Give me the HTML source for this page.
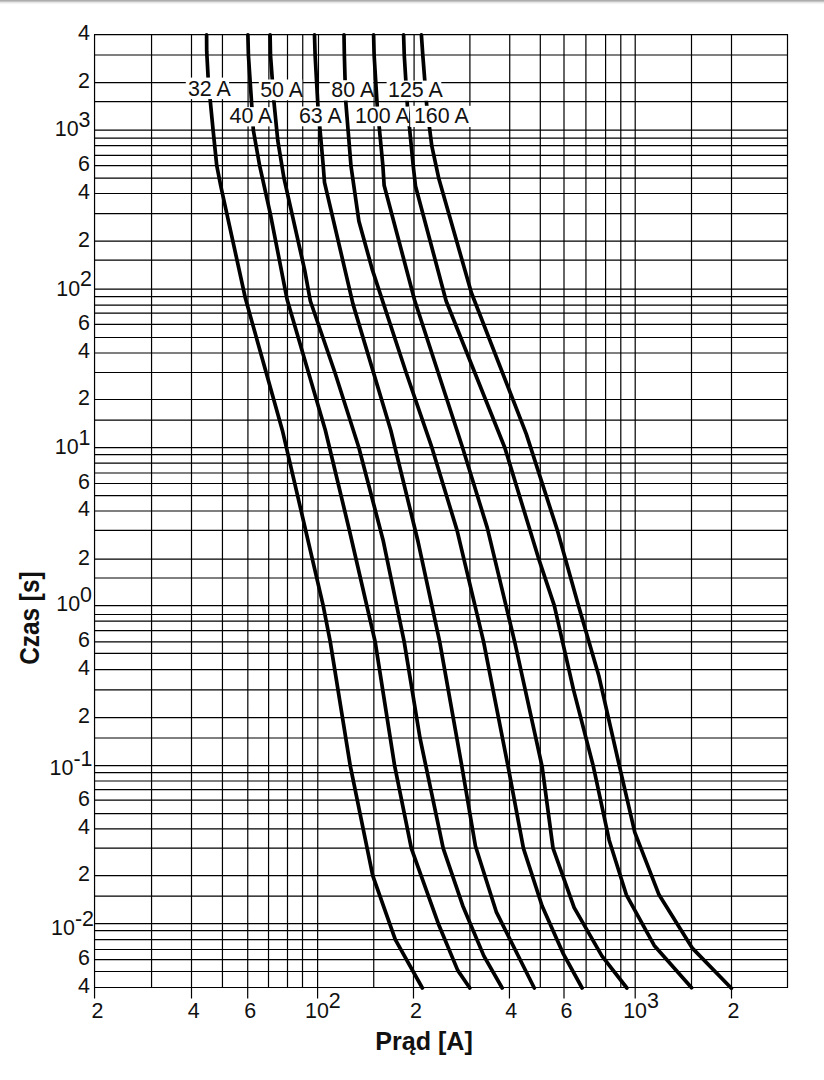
<!DOCTYPE html>
<html><head><meta charset="utf-8"><title>Czas [s] / Prąd [A]</title>
<style>
html,body{margin:0;padding:0;background:#fff;}
body{width:824px;height:1080px;position:relative;overflow:hidden;font-family:"Liberation Sans",sans-serif;}
#shade{position:absolute;left:0;top:0;width:824px;height:6px;background:linear-gradient(to bottom,#a6a6a6 0px,#b4b4b4 1px,#e9e9e9 2.6px,#fbfbfb 4px,#fff 5px);}
svg text{font-family:"Liberation Sans",sans-serif;}
</style></head><body>
<div id="shade"></div>
<svg width="824" height="1080" viewBox="0 0 824 1080" style="position:absolute;left:0;top:0">
<path d="M94.05 34.72H788.00M94.05 55.02H788.00M94.05 82.62H788.00M94.05 101.72H788.00M94.05 130.22H788.00M94.05 138.22H788.00M94.05 145.62H788.00M94.05 155.42H788.00M94.05 165.72H788.00M94.05 178.22H788.00M94.05 193.52H788.00M94.05 213.72H788.00M94.05 241.22H788.00M94.05 260.22H788.00M94.05 289.22H788.00M94.05 296.62H788.00M94.05 305.22H788.00M94.05 313.22H788.00M94.05 324.42H788.00M94.05 337.52H788.00M94.05 353.02H788.00M94.05 372.52H788.00M94.05 399.52H788.00M94.05 420.22H788.00M94.05 447.72H788.00M94.05 454.72H788.00M94.05 463.22H788.00M94.05 473.02H788.00M94.05 483.52H788.00M94.05 495.72H788.00M94.05 511.02H788.00M94.05 530.42H788.00M94.05 559.22H788.00M94.05 578.02H788.00M94.05 605.72H788.00M94.05 614.52H788.00M94.05 621.22H788.00M94.05 630.72H788.00M94.05 641.92H788.00M94.05 653.42H788.00M94.05 669.72H788.00M94.05 689.92H788.00M94.05 717.72H788.00M94.05 738.02H788.00M94.05 765.72H788.00M94.05 772.72H788.00M94.05 781.02H788.00M94.05 789.72H788.00M94.05 800.22H788.00M94.05 813.72H788.00M94.05 828.82H788.00M94.05 848.22H788.00M94.05 875.72H788.00M94.05 896.22H788.00M94.05 923.72H788.00M94.05 930.72H788.00M94.05 939.72H788.00M94.05 949.52H788.00M94.05 959.72H788.00M94.05 971.52H788.00M94.05 987.52H788.00M94.55 34.22L94.55 998.50M151.55 34.22L151.55 988.02M191.50 34.22L191.50 998.50M222.45 34.22L222.45 988.02M248.10 34.22L247.70 998.50M268.90 34.22L268.50 988.02M287.50 34.22L287.50 988.02M302.75 34.22L302.50 988.02M318.50 34.22L317.59 998.50M374.10 34.22L373.75 988.02M414.10 34.22L413.49 998.50M469.90 34.22L469.90 988.02M509.75 34.22L509.45 998.50M540.30 34.22L540.30 988.02M564.00 34.22L564.00 998.50M585.90 34.22L586.10 988.02M605.60 34.22L605.60 988.02M620.80 34.22L620.80 988.02M635.20 34.22L635.20 998.50M691.50 34.22L691.50 988.02M731.50 34.22L731.50 998.50M787.50 34.22L787.50 988.02" stroke="#000" stroke-width="1.2" fill="none"/>
<path d="M206.60 34.90L206.70 51.20L208.10 77.20L210.10 99.20L213.10 130.20L216.76 165.70L220.77 186.00L245.45 298.60L282.40 430.40L323.19 605.70L330.27 641.90L350.23 765.70L372.74 875.70L395.33 939.70L422.35 988.00" stroke="#000" stroke-width="3.7" fill="none" stroke-linecap="round" stroke-linejoin="round"/>
<path d="M247.90 34.90L248.40 55.00L251.80 106.20L253.34 130.20L259.65 165.70L270.28 213.70L287.18 299.80L325.35 430.20L349.37 530.20L375.18 641.90L394.61 765.70L411.36 848.40L438.32 923.70L457.74 970.40L469.80 988.00" stroke="#000" stroke-width="3.7" fill="none" stroke-linecap="round" stroke-linejoin="round"/>
<path d="M270.10 34.90L270.49 55.00L273.79 100.20L277.79 140.60L283.97 178.20L304.69 270.20L310.35 301.00L334.90 372.50L358.90 447.70L383.10 540.20L404.21 641.90L419.99 738.00L443.21 848.40L462.75 905.70L483.82 955.90L502.18 988.00" stroke="#000" stroke-width="3.7" fill="none" stroke-linecap="round" stroke-linejoin="round"/>
<path d="M314.50 34.90L315.10 55.00L317.93 106.20L323.21 165.70L324.50 182.30L353.00 304.10L390.76 430.20L417.70 540.20L439.71 641.90L461.75 765.70L475.43 846.00L496.27 911.80L534.27 988.00" stroke="#000" stroke-width="3.7" fill="none" stroke-linecap="round" stroke-linejoin="round"/>
<path d="M344.00 34.90L344.35 55.00L345.65 100.20L350.95 165.70L358.91 221.20L372.46 270.20L406.10 372.50L431.94 447.70L457.06 530.40L483.62 641.90L507.91 765.70L523.45 848.40L542.02 905.70L563.48 954.20L582.11 988.00" stroke="#000" stroke-width="3.7" fill="none" stroke-linecap="round" stroke-linejoin="round"/>
<path d="M373.60 34.90L374.12 55.00L377.23 106.20L382.87 165.70L384.12 185.20L414.62 300.20L462.61 447.70L487.29 527.90L514.70 641.90L542.14 766.80L553.07 848.40L574.14 907.60L601.86 955.90L626.88 988.00" stroke="#000" stroke-width="3.7" fill="none" stroke-linecap="round" stroke-linejoin="round"/>
<path d="M403.60 34.90L404.24 55.00L407.42 106.20L413.21 165.70L415.48 186.00L446.13 301.00L504.82 447.70L538.23 557.30L554.31 605.70L573.53 689.90L593.17 765.70L609.17 840.20L626.34 894.80L654.20 945.40L691.60 987.70" stroke="#000" stroke-width="3.7" fill="none" stroke-linecap="round" stroke-linejoin="round"/>
<path d="M421.40 34.90L422.78 55.00L426.78 106.20L431.74 145.60L438.72 178.20L471.29 292.50L526.34 434.10L557.40 530.40L578.50 605.70L598.73 675.40L619.32 765.70L634.79 832.30L659.03 894.80L692.56 948.40L731.39 988.20" stroke="#000" stroke-width="3.7" fill="none" stroke-linecap="round" stroke-linejoin="round"/>
<rect x="185.8" y="77.6" width="43.30" height="21.50" fill="#fff"/>
<rect x="258.8" y="79.5" width="43.50" height="20.75" fill="#fff"/>
<rect x="329.8" y="80.2" width="43.40" height="20.40" fill="#fff"/>
<rect x="386.6" y="80.6" width="54.70" height="20.20" fill="#fff"/>
<rect x="227.4" y="107.1" width="43.40" height="19.30" fill="#fff"/>
<rect x="297.4" y="106.5" width="43.40" height="19.80" fill="#fff"/>
<rect x="354.5" y="106.6" width="54.70" height="19.60" fill="#fff"/>
<rect x="410.2" y="105.8" width="60.80" height="21.20" fill="#fff"/>
<text transform="translate(187.9 95.7) scale(0.94 1)" font-size="22.8" text-anchor="start" fill="#111">32 A</text>
<text transform="translate(260.2 96.5) scale(0.94 1)" font-size="22.8" text-anchor="start" fill="#111">50 A</text>
<text transform="translate(331.3 96.85) scale(0.94 1)" font-size="22.8" text-anchor="start" fill="#111">80 A</text>
<text transform="translate(388.0 96.8) scale(0.94 1)" font-size="22.8" text-anchor="start" fill="#111">125 A</text>
<text transform="translate(229.5 123.45) scale(0.94 1)" font-size="22.8" text-anchor="start" fill="#111">40 A</text>
<text transform="translate(298.9 123.45) scale(0.94 1)" font-size="22.8" text-anchor="start" fill="#111">63 A</text>
<text transform="translate(354.9 123.4) scale(0.94 1)" font-size="22.8" text-anchor="start" fill="#111">100 A</text>
<text transform="translate(413.9 123.4) scale(0.94 1)" font-size="22.8" text-anchor="start" fill="#111">160 A</text>
<text transform="translate(90.0 40.1) scale(0.94 1)" font-size="22.8" text-anchor="end" fill="#111">4</text>
<text transform="translate(90.0 88.0) scale(0.94 1)" font-size="22.8" text-anchor="end" fill="#111">2</text>
<text transform="translate(90.0 171.1) scale(0.94 1)" font-size="22.8" text-anchor="end" fill="#111">6</text>
<text transform="translate(90.0 198.9) scale(0.94 1)" font-size="22.8" text-anchor="end" fill="#111">4</text>
<text transform="translate(90.0 246.6) scale(0.94 1)" font-size="22.8" text-anchor="end" fill="#111">2</text>
<text transform="translate(90.0 329.8) scale(0.94 1)" font-size="22.8" text-anchor="end" fill="#111">6</text>
<text transform="translate(90.0 358.4) scale(0.94 1)" font-size="22.8" text-anchor="end" fill="#111">4</text>
<text transform="translate(90.0 404.9) scale(0.94 1)" font-size="22.8" text-anchor="end" fill="#111">2</text>
<text transform="translate(90.0 488.9) scale(0.94 1)" font-size="22.8" text-anchor="end" fill="#111">6</text>
<text transform="translate(90.0 516.4) scale(0.94 1)" font-size="22.8" text-anchor="end" fill="#111">4</text>
<text transform="translate(90.0 564.6) scale(0.94 1)" font-size="22.8" text-anchor="end" fill="#111">2</text>
<text transform="translate(90.0 647.3) scale(0.94 1)" font-size="22.8" text-anchor="end" fill="#111">6</text>
<text transform="translate(90.0 675.1) scale(0.94 1)" font-size="22.8" text-anchor="end" fill="#111">4</text>
<text transform="translate(90.0 723.1) scale(0.94 1)" font-size="22.8" text-anchor="end" fill="#111">2</text>
<text transform="translate(90.0 805.6) scale(0.94 1)" font-size="22.8" text-anchor="end" fill="#111">6</text>
<text transform="translate(90.0 834.2) scale(0.94 1)" font-size="22.8" text-anchor="end" fill="#111">4</text>
<text transform="translate(90.0 881.1) scale(0.94 1)" font-size="22.8" text-anchor="end" fill="#111">2</text>
<text transform="translate(90.0 965.1) scale(0.94 1)" font-size="22.8" text-anchor="end" fill="#111">6</text>
<text transform="translate(90.0 992.9) scale(0.94 1)" font-size="22.8" text-anchor="end" fill="#111">4</text>
<text transform="translate(90.5 136.0) scale(0.94 1)" font-size="22.8" text-anchor="end" fill="#111">10<tspan dy="-9.5">3</tspan></text>
<text transform="translate(92 295.6) scale(0.94 1)" font-size="22.8" text-anchor="end" fill="#111">10<tspan dy="-9.5">2</tspan></text>
<text transform="translate(90.5 454.2) scale(0.94 1)" font-size="22.8" text-anchor="end" fill="#111">10<tspan dy="-9.4">1</tspan></text>
<text transform="translate(92 611.4) scale(0.94 1)" font-size="22.8" text-anchor="end" fill="#111">10<tspan dy="-9.1">0</tspan></text>
<text transform="translate(92.5 775.3) scale(0.94 1)" font-size="22.8" text-anchor="end" fill="#111">10<tspan dy="-9.1">-1</tspan></text>
<text transform="translate(94 935) scale(0.94 1)" font-size="22.8" text-anchor="end" fill="#111">10<tspan dy="-9.1">-2</tspan></text>
<text transform="translate(97.4 1017.5) scale(0.94 1)" font-size="22.8" text-anchor="middle" fill="#111">2</text>
<text transform="translate(193.6 1017.5) scale(0.94 1)" font-size="22.8" text-anchor="middle" fill="#111">4</text>
<text transform="translate(250.2 1017.5) scale(0.94 1)" font-size="22.8" text-anchor="middle" fill="#111">6</text>
<text transform="translate(415.9 1017.5) scale(0.94 1)" font-size="22.8" text-anchor="middle" fill="#111">2</text>
<text transform="translate(511.3 1017.5) scale(0.94 1)" font-size="22.8" text-anchor="middle" fill="#111">4</text>
<text transform="translate(566.4 1017.5) scale(0.94 1)" font-size="22.8" text-anchor="middle" fill="#111">6</text>
<text transform="translate(733.5 1017.5) scale(0.94 1)" font-size="22.8" text-anchor="middle" fill="#111">2</text>
<text transform="translate(305 1017.8) scale(0.94 1)" font-size="22.8" fill="#111">10<tspan dy="-10.2">2</tspan></text>
<text transform="translate(623.2 1017.8) scale(0.94 1)" font-size="22.8" fill="#111">10<tspan dy="-10.2">3</tspan></text>
<text transform="translate(375.2 1050.4) scale(0.955 1)" font-size="26.3" text-anchor="start" fill="#111" font-weight="bold">Prąd [A]</text>
<text transform="translate(38.9 664.8) rotate(-90) scale(0.89 1)" font-size="27.4" text-anchor="start" fill="#111" font-weight="bold">Czas [s]</text>
</svg>
</body></html>
